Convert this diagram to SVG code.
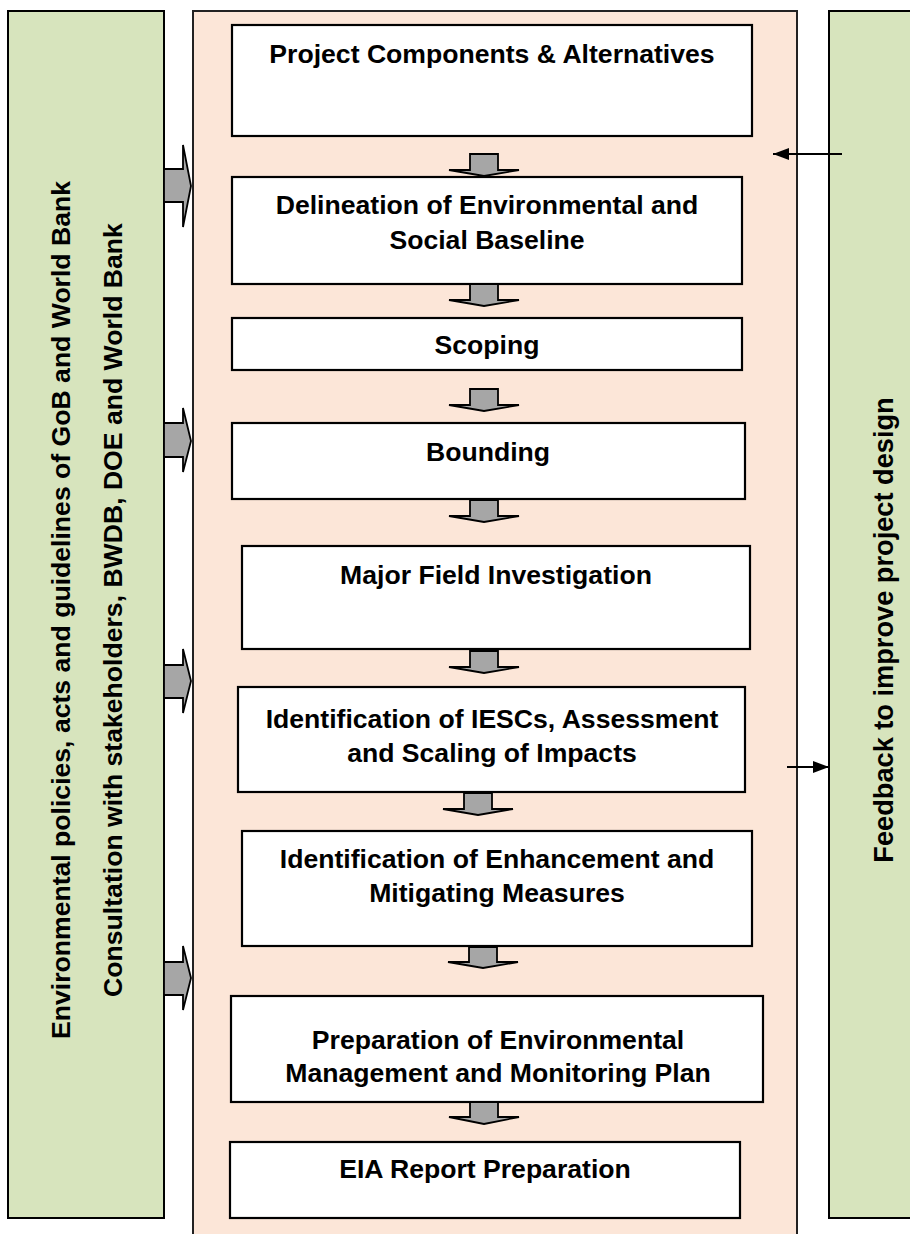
<svg xmlns="http://www.w3.org/2000/svg" width="910" height="1234" viewBox="0 0 910 1234">
  <defs>
    <style>
      .side { fill: #d7e4bd; stroke: #000; stroke-width: 2; }
      .core { fill: #fce6d8; stroke: #222; stroke-width: 2; }
      .step { fill: #ffffff; stroke: #000; stroke-width: 2.2; }
      .lbl { font-family: "Liberation Sans", Arial, sans-serif; font-weight: bold; font-size: 26.6px; fill: #000; text-anchor: middle; }
      .big { font-size: 27.2px; }
      .blk { fill: #a6a6a6; stroke: #000; stroke-width: 1.8; stroke-linejoin: miter; }
      .fb { stroke: #000; stroke-width: 2; fill: none; }
    </style>
    <marker id="headBig" viewBox="0 0 16 12" refX="16" refY="6" markerWidth="16" markerHeight="12" markerUnits="userSpaceOnUse" orient="auto">
      <path d="M0,0 L16,6 L0,12 Z" fill="#000"/>
    </marker>
  </defs>

  <!-- side panels -->
  <g id="policies">
    <rect class="side" x="8" y="11" width="156" height="1207"/>
    <text class="lbl" transform="translate(70,610) rotate(-90)">Environmental policies, acts and guidelines of GoB and World Bank</text>
    <text class="lbl" transform="translate(122,610) rotate(-90)">Consultation with stakeholders, BWDB, DOE and World Bank</text>
  </g>
  <g id="feedback">
    <rect class="side" x="829" y="11" width="90" height="1207"/>
    <text class="lbl big" transform="translate(893,630) rotate(-90)">Feedback to improve project design</text>
  </g>

  <!-- central process frame -->
  <g id="process">
    <path class="core" d="M193,1240 L193,11 L797,11 L797,1240"/>
  </g>

  <g id="step1">
    <rect class="step" x="232" y="25" width="520" height="111"/>
    <text class="lbl" x="492" y="63">Project Components &amp; Alternatives</text>
  </g>
  <g id="step2">
    <rect class="step" x="232" y="177" width="510" height="107"/>
    <text class="lbl" x="487" y="214">Delineation of Environmental and</text>
    <text class="lbl" x="487" y="249">Social Baseline</text>
  </g>
  <g id="step3">
    <rect class="step" x="232" y="318" width="510" height="52"/>
    <text class="lbl" x="487" y="354">Scoping</text>
  </g>
  <g id="step4">
    <rect class="step" x="232" y="423" width="513" height="76"/>
    <text class="lbl" x="488" y="461">Bounding</text>
  </g>
  <g id="step5">
    <rect class="step" x="242" y="546" width="508" height="103"/>
    <text class="lbl" x="496" y="584">Major Field Investigation</text>
  </g>
  <g id="step6">
    <rect class="step" x="238" y="687" width="507" height="105"/>
    <text class="lbl" x="492" y="728">Identification of IESCs, Assessment</text>
    <text class="lbl" x="492" y="762">and Scaling of Impacts</text>
  </g>
  <g id="step7">
    <rect class="step" x="242" y="831" width="510" height="115"/>
    <text class="lbl" x="497" y="868">Identification of Enhancement and</text>
    <text class="lbl" x="497" y="902">Mitigating Measures</text>
  </g>
  <g id="step8">
    <rect class="step" x="231" y="996" width="532" height="106"/>
    <text class="lbl" x="498" y="1049">Preparation of Environmental</text>
    <text class="lbl" x="498" y="1082">Management and Monitoring Plan</text>
  </g>
  <g id="step9">
    <rect class="step" x="230" y="1142" width="510" height="76"/>
    <text class="lbl" x="485" y="1178">EIA Report Preparation</text>
  </g>

  <g id="connectors">
    <!-- downward block arrows between steps -->
    <path class="blk" d="M470,154 L498,154 L498,170 L519,170 L484,176 L449,170 L470,170 Z"/>
    <path class="blk" d="M470,284 L498,284 L498,300 L519,300 L484,306 L449,300 L470,300 Z"/>
    <path class="blk" d="M470,389 L498,389 L498,405 L519,405 L484,411 L449,405 L470,405 Z"/>
    <path class="blk" d="M470,500 L498,500 L498,516 L519,516 L484,522 L449,516 L470,516 Z"/>
    <path class="blk" d="M470,651 L498,651 L498,667 L519,667 L484,673 L449,667 L470,667 Z"/>
    <path class="blk" d="M464,793 L492,793 L492,809 L513,809 L478,815 L443,809 L464,809 Z"/>
    <path class="blk" d="M469,947 L497,947 L497,962 L518,962 L483,968 L448,962 L469,962 Z"/>
    <path class="blk" d="M470,1102 L498,1102 L498,1117 L519,1117 L484,1124 L449,1117 L470,1117 Z"/>

    <!-- block arrows from the policy panel -->
    <path class="blk" d="M164,169 L183,169 L183,145 L191,186 L183,227 L183,202 L164,202 Z"/>
    <path class="blk" d="M164,423 L183,423 L183,408 L191,441 L183,472 L183,457 L164,457 Z"/>
    <path class="blk" d="M164,665 L183,665 L183,649 L191,681 L183,713 L183,698 L164,698 Z"/>
    <path class="blk" d="M164,962 L183,962 L183,946 L191,978 L183,1010 L183,995 L164,995 Z"/>

    <!-- feedback links -->
    <line class="fb" x1="842" y1="154" x2="773" y2="154" marker-end="url(#headBig)"/>
    <line class="fb" x1="787" y1="767" x2="829" y2="767" marker-end="url(#headBig)"/>
  </g>
</svg>
